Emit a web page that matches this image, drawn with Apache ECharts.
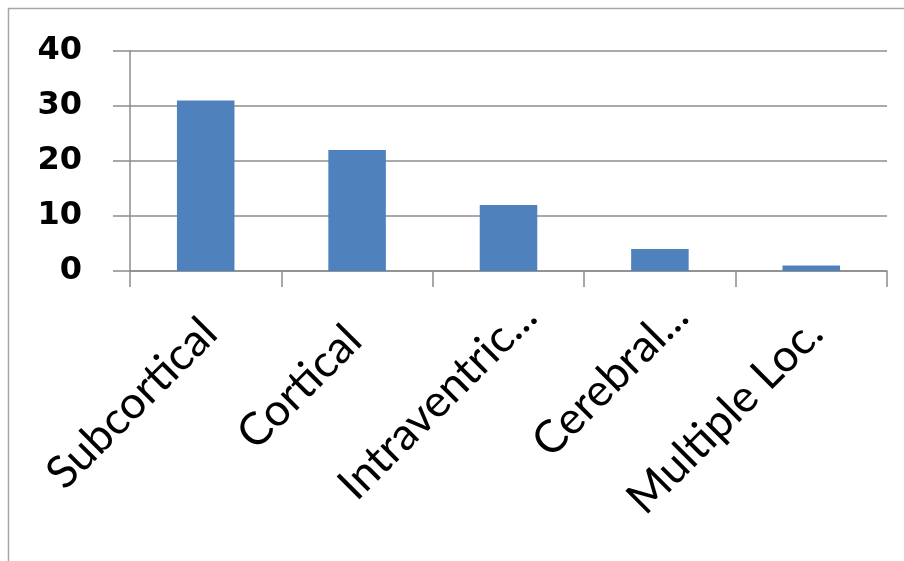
<!DOCTYPE html>
<html>
<head>
<meta charset="utf-8">
<script src="https://cdn.jsdelivr.net/npm/echarts@6/dist/echarts.min.js"></script>
<style>
  html, body { margin: 0; padding: 0; background: #ffffff; }
  #chart { width: 904px; height: 561px; }
</style>
</head>
<body>
<div id="chart"></div>
<script>
// Haemorrhage location counts
const categories = ['Subcortical', 'Cortical', 'Intraventric...', 'Cerebral...', 'Multiple Loc.'];
const counts = [31, 22, 12, 4, 1];
const yTicks = { min: 0, max: 40, interval: 10 };

// How far each slanted label sits back from its tick, along its reading direction (px)
const labelPullBack = [24, 34, 0, 0, 24];

const chart = echarts.init(document.getElementById('chart'), null, { renderer: 'canvas' });

chart.setOption({
  animation: false,
  backgroundColor: '#ffffff',
  graphic: [{
    type: 'rect',
    shape: { x: 8.5, y: 8.5, width: 1000, height: 1000 },
    style: { fill: 'none', stroke: '#a6a6a6', lineWidth: 1.5 },
    silent: true
  }],
  grid: {
    left: 130, right: 17, top: 51, bottom: 290,
    containLabel: false,
    outerBoundsMode: 'none'
  },
  xAxis: {
    type: 'category',
    data: categories.map((name, i) => ({
      value: name,
      textStyle: { padding: [0, labelPullBack[i], 0, 0] }
    })),
    axisLine: { lineStyle: { color: '#8c8c8c', width: 1.5 } },
    axisTick: { show: true, length: 16, lineStyle: { color: '#8c8c8c', width: 1.5 } },
    axisLabel: {
      rotate: 45,
      interval: 0,
      margin: 17,
      lineHeight: 59,
      // an empty leading line drops the slanted text further below the axis
      formatter: (name) => '\n' + name,
      fontFamily: 'Lato',
      fontSize: 45,
      color: '#000000'
    },
    splitLine: { show: false }
  },
  yAxis: {
    type: 'value',
    min: yTicks.min,
    max: yTicks.max,
    interval: yTicks.interval,
    axisLine: { show: true, lineStyle: { color: '#8c8c8c', width: 1.5 } },
    axisTick: { show: true, inside: false, length: 17, lineStyle: { color: '#8c8c8c', width: 1.5 } },
    axisLabel: {
      margin: 48,
      fontFamily: 'DejaVu Sans',
      fontWeight: 'bold',
      fontSize: 32,
      color: '#000000'
    },
    splitLine: { show: true, lineStyle: { color: '#8c8c8c', width: 1.5 } }
  },
  series: [{
    type: 'bar',
    data: counts,
    barWidth: '38%',
    itemStyle: { color: '#4f81bd' }
  }]
});
</script>
</body>
</html>
